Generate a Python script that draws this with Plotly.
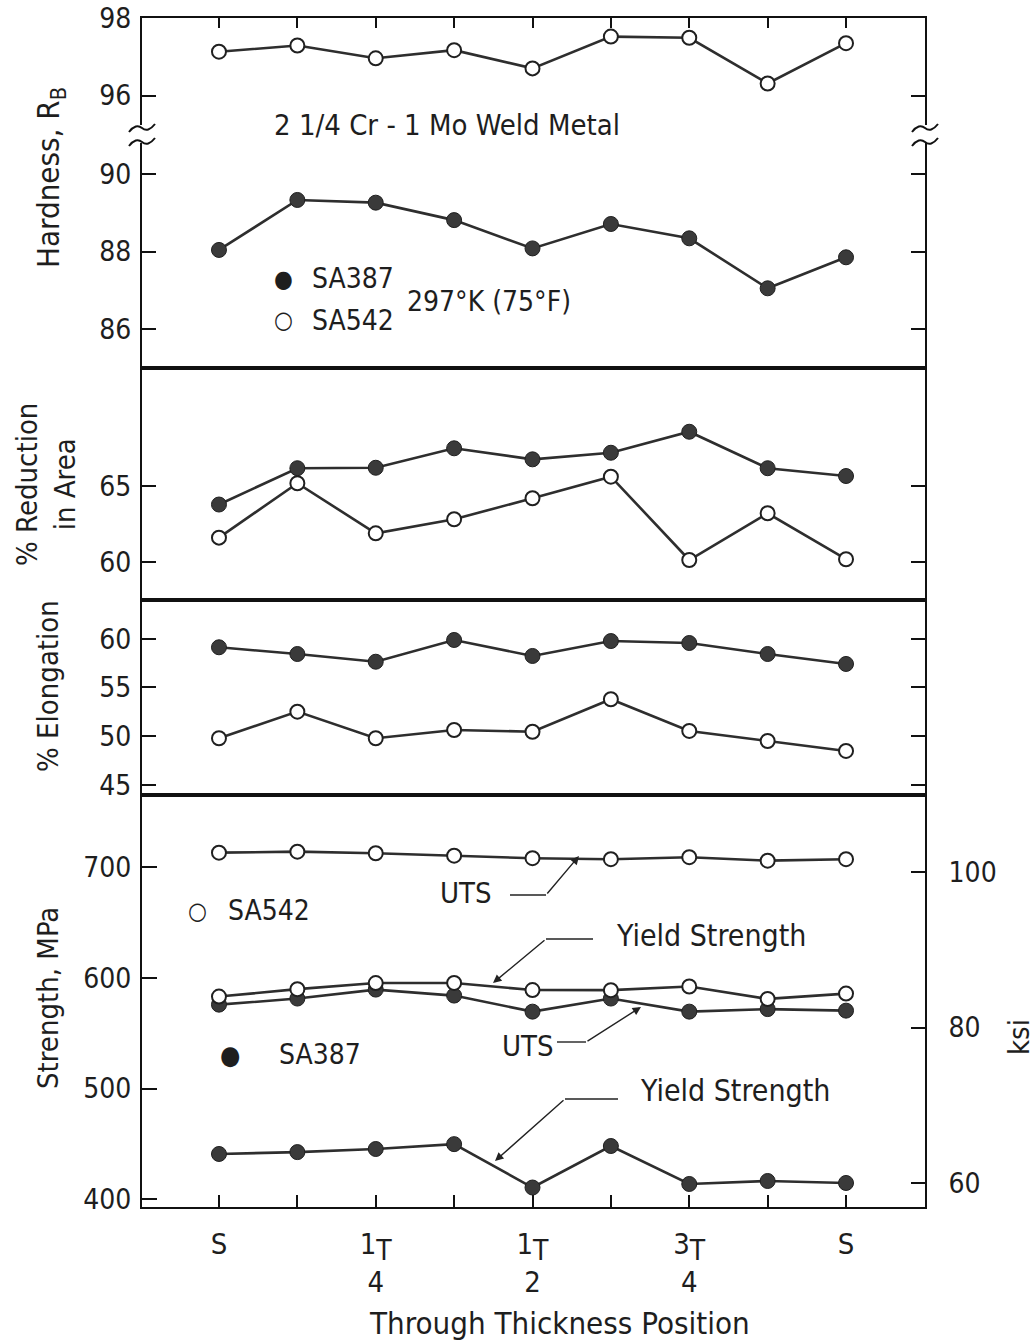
import plotly.graph_objects as go

# ---------------- data ----------------
x_idx = [0, 1, 2, 3, 4, 5, 6, 7, 8]
T_SPAN = "<sub><span style='font-size:28px'>T</span></sub>"
tick_text = ["S", "", "1" + T_SPAN + "<br>4", "", "1" + T_SPAN + "<br>2", "",
             "3" + T_SPAN + "<br>4", "", "S"]

hard_sa542 = [97.13, 97.29, 96.96, 97.17, 96.70, 97.52, 97.49, 96.31, 97.35]
hard_sa387 = [88.04, 89.33, 89.26, 88.81, 88.08, 88.71, 88.34, 87.05, 87.85]
ra_sa387 = [63.77, 66.14, 66.17, 67.44, 66.72, 67.15, 68.52, 66.14, 65.63]
ra_sa542 = [61.61, 65.16, 61.89, 62.81, 64.18, 65.59, 60.15, 63.20, 60.20]
el_sa387 = [59.12, 58.43, 57.64, 59.87, 58.23, 59.76, 59.56, 58.43, 57.41]
el_sa542 = [49.79, 52.52, 49.79, 50.64, 50.46, 53.79, 50.54, 49.51, 48.49]
uts_sa542 = [713.1, 714.0, 712.6, 710.4, 708.1, 707.2, 709.0, 705.9, 707.2]
ys_sa542 = [583.1, 589.8, 595.3, 595.4, 589.0, 588.9, 592.2, 581.0, 585.8]
uts_sa387 = [575.8, 581.3, 589.4, 584.0, 569.5, 581.3, 569.5, 571.8, 570.4]
ys_sa387 = [440.9, 442.6, 445.4, 449.8, 410.6, 448.1, 413.8, 416.5, 414.7]
MPA_PER_KSI = 6.895

# ---------------- geometry helpers ----------------
W, H = 1035, 1344
L, R, T, B = 142, 925, 18, 1207


def px(x):
    return (x - L) / (R - L)


def py(y):
    return (B - y) / (B - T)


FONT = "DejaVu Sans Condensed, Liberation Sans Narrow, Arial Narrow, sans-serif"
INK = "#1e1e1e"
LINE = "#2e2e2e"
FILL = "#3a3a3a"

fig = go.Figure()


def add_series(x, y, xa, ya, filled):
    if filled:
        marker = dict(symbol="circle", size=15, color=FILL, line=dict(color="#202020", width=1))
    else:
        marker = dict(symbol="circle", size=14, color="white", line=dict(color="#202020", width=2))
    fig.add_trace(go.Scatter(x=x, y=y, mode="lines+markers", xaxis=xa, yaxis=ya,
                             line=dict(color=LINE, width=2.6), marker=marker,
                             showlegend=False, hoverinfo="skip"))


add_series(x_idx, hard_sa542, "x5", "y", False)
add_series(x_idx, hard_sa387, "x2", "y2", True)
add_series(x_idx, ra_sa387, "x3", "y3", True)
add_series(x_idx, ra_sa542, "x3", "y3", False)
add_series(x_idx, el_sa387, "x4", "y4", True)
add_series(x_idx, el_sa542, "x4", "y4", False)
add_series(x_idx, uts_sa542, "x", "y5", False)
add_series(x_idx, ys_sa387, "x", "y5", True)
add_series(x_idx, uts_sa387, "x", "y5", True)
add_series(x_idx, ys_sa542, "x", "y5", False)

# secondary (ksi) scale of the strength panel: same data in ksi, not drawn
fig.add_trace(go.Scatter(x=x_idx, y=[v / MPA_PER_KSI for v in uts_sa542], xaxis="x", yaxis="y6",
                         mode="markers", marker=dict(opacity=0, size=1), showlegend=False,
                         hoverinfo="skip"))

XR = [-(219 - L) / 78.4, 8 + (R - 846) / 78.4]
tickfont = dict(family=FONT, size=28, color=INK)

common_x = dict(range=XR, showgrid=False, zeroline=False, linecolor="#111", linewidth=2,
                automargin=False)
common_y = dict(showgrid=False, zeroline=False, linecolor="#111", linewidth=2,
                tickfont=tickfont, ticks="inside", tickcolor="#111", tickwidth=1.6,
                ticklabelstandoff=3, automargin=False)

layout = dict(
    width=W, height=H, autosize=False,
    margin=dict(l=L, r=W - R, t=T, b=H - B, pad=0),
    paper_bgcolor="white", plot_bgcolor="white",
    font=dict(family=FONT, color=INK),
    xaxis=dict(common_x, anchor="y5", domain=[0, 1], tickvals=x_idx, ticktext=tick_text,
               ticks="inside", ticklen=12, tickwidth=1.6, tickcolor="#111", showline=True, mirror=True,
               tickfont=dict(family=FONT, size=29, color=INK), ticklabelstandoff=10),
    xaxis2=dict(common_x, anchor="y2", showticklabels=False, ticks="", showline=True, mirror=False),
    xaxis3=dict(common_x, anchor="y3", showticklabels=False, ticks="", showline=True, mirror=True),
    xaxis4=dict(common_x, anchor="y4", showticklabels=False, ticks="", showline=True, mirror=True),
    xaxis5=dict(common_x, anchor="y", side="top", showticklabels=False, tickvals=x_idx,
                ticks="inside", ticklen=10, tickwidth=1.6, tickcolor="#111", showline=True, mirror=False),
    yaxis=dict(common_y, anchor="x5", domain=[py(125), 1], range=[98 - (125 - 18) / 38.75, 98.0],
               tickvals=[96, 98], ticklen=14, showline=True, mirror="ticks"),
    yaxis2=dict(common_y, anchor="x2", domain=[py(368), py(143)],
                range=[86 - (368 - 329) / 38.75, 86 + (329 - 143) / 38.75],
                tickvals=[86, 88, 90], ticklen=14, showline=True, mirror="ticks"),
    yaxis3=dict(common_y, anchor="x3", domain=[py(600), py(368)], range=[57.54, 72.68],
                tickvals=[60, 65], ticklen=14, showline=True, mirror="ticks"),
    yaxis4=dict(common_y, anchor="x4", domain=[py(795), py(600)], range=[43.97, 63.97],
                tickvals=[45, 50, 55, 60], ticklen=14, showline=True, mirror="ticks"),
    yaxis5=dict(common_y, anchor="x", domain=[0, py(795)], range=[393, 765.2],
                tickvals=[400, 500, 600, 700], ticklen=15, showline=True, mirror=False),
    yaxis6=dict(common_y, anchor="x", overlaying="y5", side="right", range=[56.95, 109.9],
                tickvals=[60, 80, 100], ticklen=14, showline=True, ticklabelstandoff=16),
)
fig.update_layout(**layout)

ann = []


def text(x, y, s, size=28, angle=0, xanchor="center"):
    ann.append(dict(x=px(x), y=py(y), xref="paper", yref="paper", text=s, showarrow=False,
                    textangle=angle, xanchor=xanchor, yanchor="middle",
                    font=dict(family=FONT, size=size, color=INK)))


# axis titles
text(50, 178, "Hardness, R<sub>B</sub>", size=31, angle=-90)
text(46, 485, "% Reduction<br>in Area", size=29, angle=-90)
text(48, 686, "% Elongation", size=29, angle=-90)
text(48, 998, "Strength, MPa", size=29, angle=-90)
text(1019, 1037, "ksi", size=29, angle=-90)
text(559, 1323, "Through Thickness Position", size=31)

# panel texts
text(447, 125, "2 1/4 Cr - 1 Mo Weld Metal", size=29)
text(283, 279, "●", size=24)
text(310, 279, "SA387", size=28, xanchor="left")
text(283, 320, "○", size=24)
text(310, 320, "SA542", size=28, xanchor="left")
text(405, 302, "297°K (75°F)", size=28, xanchor="left")
text(197, 911, "○", size=24)
text(226, 910, "SA542", size=28, xanchor="left")
text(230, 1055, "●", size=26)
text(277, 1054, "SA387", size=28, xanchor="left")
text(466, 893, "UTS", size=29)
text(711, 936, "Yield Strength", size=30)
text(528, 1046, "UTS", size=29)
text(735, 1090, "Yield Strength", size=30)

# leader arrows (tip, tail)
arrows = [((579, 856), (546, 895)), ((493, 983), (546, 939)),
          ((641, 1007), (586, 1042)), ((495, 1161), (565, 1099))]
for (tx, ty), (sx, sy) in arrows:
    ann.append(dict(x=px(tx), y=py(ty), xref="paper", yref="paper", text="", showarrow=True,
                    ax=sx - tx, ay=sy - ty, axref="pixel", ayref="pixel", arrowhead=2,
                    arrowsize=1.2, arrowwidth=1.4, arrowcolor="#222", standoff=0, startstandoff=0))
fig.update_layout(annotations=ann)

shapes = []
for (x0, y0, x1, y1) in [(510, 895, 546, 895), (546, 939, 593, 939),
                         (557, 1042, 586, 1042), (565, 1099, 618, 1099)]:
    shapes.append(dict(type="line", xref="paper", yref="paper", x0=px(x0), y0=py(y0), x1=px(x1), y1=py(y1),
                       line=dict(color="#222", width=1.4)))


def squiggle(cx, cy):
    pts = [(cx - 13, cy + 4), (cx - 6, cy - 5), (cx, cy), (cx + 6, cy + 5), (cx + 13, cy - 4)]
    p = "M {},{} Q {},{} {},{} Q {},{} {},{}".format(
        px(pts[0][0]), py(pts[0][1]), px(pts[1][0]), py(pts[1][1]), px(pts[2][0]), py(pts[2][1]),
        px(pts[3][0]), py(pts[3][1]), px(pts[4][0]), py(pts[4][1]))
    return dict(type="path", xref="paper", yref="paper", path=p, line=dict(color="#111", width=2))


for cx in (L, R):
    shapes.append(squiggle(cx, 128))
    shapes.append(squiggle(cx, 142))
fig.update_layout(shapes=shapes)

fig.write_html("out.html")
